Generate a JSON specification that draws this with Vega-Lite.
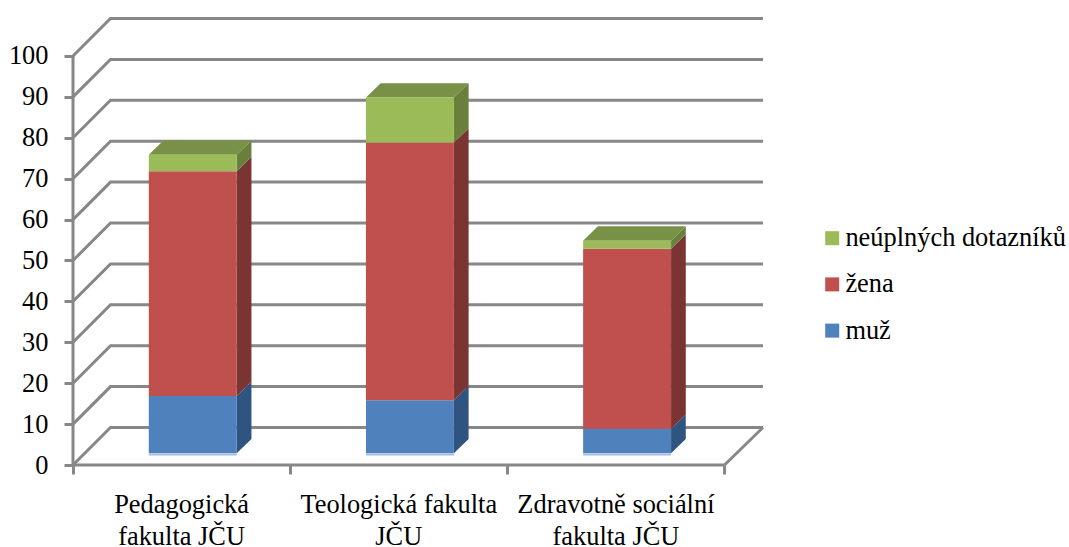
{
"$schema":"https://vega.github.io/schema/vega-lite/v6.json",
"width":690,"height":447,
"autosize":"none",
"padding":{"left":73,"top":18,"right":306,"bottom":82},
"background":"white",
"config":{"view":{"stroke":null},"font":"Liberation Serif, Times New Roman, serif"},
"datasets":{
"hodnoty":[
{"fakulta":"Pedagogická fakulta JČU","i":0,"serie":"muž","s":0,"hodnota":14},
{"fakulta":"Pedagogická fakulta JČU","i":0,"serie":"žena","s":1,"hodnota":55},
{"fakulta":"Pedagogická fakulta JČU","i":0,"serie":"neúplných dotazníků","s":2,"hodnota":4},
{"fakulta":"Teologická fakulta JČU","i":1,"serie":"muž","s":0,"hodnota":13},
{"fakulta":"Teologická fakulta JČU","i":1,"serie":"žena","s":1,"hodnota":63},
{"fakulta":"Teologická fakulta JČU","i":1,"serie":"neúplných dotazníků","s":2,"hodnota":11},
{"fakulta":"Zdravotně sociální fakulta JČU","i":2,"serie":"muž","s":0,"hodnota":6},
{"fakulta":"Zdravotně sociální fakulta JČU","i":2,"serie":"žena","s":1,"hodnota":44},
{"fakulta":"Zdravotně sociální fakulta JČU","i":2,"serie":"neúplných dotazníků","s":2,"hodnota":2}
],
"mrizka":[{"v":0},{"v":10},{"v":20},{"v":30},{"v":40},{"v":50},{"v":60},{"v":70},{"v":80},{"v":90},{"v":100}],
"popisky":[
{"i":0,"popisek":"Pedagogická\nfakulta JČU"},
{"i":1,"popisek":"Teologická fakulta\nJČU"},
{"i":2,"popisek":"Zdravotně sociální\nfakulta JČU"}
]
},
"layer":[
{
"data":{"name":"mrizka"},
"transform":[
{"calculate":"[0,1,2]","as":"ps"},{"flatten":["ps"],"as":["p"]},
{"calculate":"datum.p==0?0:datum.p==1?0.1727:3.1773","as":"gx"},
{"calculate":"datum.v+(datum.p>0?9.17:0)","as":"gy"}
],
"mark":{"type":"line","color":"#878787","strokeWidth":3,"clip":false},
"encoding":{
"x":{"field":"gx","type":"quantitative","scale":{"domain":[0,3.1773],"nice":false,"zero":false},
"axis":{"values":[0,1,2,3],"labels":false,"title":null,"grid":false,"domain":false,"ticks":true,"tickSize":9,"tickColor":"#878787","tickWidth":3}},
"y":{"field":"gy","type":"quantitative","scale":{"domain":[0,109.29],"nice":false,"zero":false},
"axis":{"values":[0,10,20,30,40,50,60,70,80,90,100],"title":null,"grid":false,"domain":false,"tickSize":9,"tickColor":"#878787","tickWidth":3,"labelFont":"Liberation Serif, Times New Roman, serif","labelFontSize":26.4,"labelColor":"#000000","labelPadding":16}},
"detail":{"field":"v"}
}
},
{
"data":{"values":[{"x":0,"y":0,"k":"a"},{"x":0,"y":100,"k":"a"},{"x":0,"y":0,"k":"b"},{"x":3,"y":0,"k":"b"},{"x":3,"y":0,"k":"c"},{"x":3.1773,"y":9.17,"k":"c"}]},
"mark":{"type":"line","color":"#878787","strokeWidth":3},
"encoding":{
"x":{"field":"x","type":"quantitative","scale":{"domain":[0,3.1773],"nice":false,"zero":false}},
"y":{"field":"y","type":"quantitative","scale":{"domain":[0,109.29],"nice":false,"zero":false}},
"detail":{"field":"k"},
"order":{"field":"y"}
}
},
{
"data":{"name":"hodnoty"},
"transform":[
{"stack":"hodnota","groupby":["fakulta"],"sort":[{"field":"s","order":"ascending"}],"as":["y0","y1"]},
{"calculate":"[0,1]","as":"ts"},{"flatten":["ts"],"as":["t"]},
{"calculate":"datum.i+0.754+datum.t*0.0677","as":"sx"},
{"calculate":"datum.y1+2.85+datum.t*3.5","as":"sy1"},
{"calculate":"datum.y0+2.85+datum.t*3.5","as":"sy0"}
],
"mark":{"type":"area","orient":"vertical","opacity":1},
"encoding":{
"x":{"field":"sx","type":"quantitative","scale":{"domain":[0,3.1773],"nice":false,"zero":false}},
"y":{"field":"sy1","type":"quantitative","stack":null,"scale":{"domain":[0,109.29],"nice":false,"zero":false}},
"y2":{"field":"sy0"},
"color":{"field":"serie","type":"nominal","legend":null,"scale":{"domain":["neúplných dotazníků","žena","muž"],"range":["#68803C","#7A3432","#305480"]}},
"detail":{"field":"i"}
}
},
{
"data":{"name":"hodnoty"},
"transform":[
{"stack":"hodnota","groupby":["fakulta"],"sort":[{"field":"s","order":"ascending"}],"as":["y0","y1"]},
{"filter":"datum.s==2"},
{"calculate":"[0,1]","as":"ts"},{"flatten":["ts"],"as":["t"]},
{"calculate":"datum.i+0.349+datum.t*0.0677","as":"tx0"},
{"calculate":"datum.i+0.754+datum.t*0.0677","as":"tx1"},
{"calculate":"datum.y1+2.85+datum.t*3.5","as":"ty"}
],
"mark":{"type":"area","orient":"horizontal","color":"#789146","opacity":1},
"encoding":{
"y":{"field":"ty","type":"quantitative","scale":{"domain":[0,109.29],"nice":false,"zero":false}},
"x":{"field":"tx0","type":"quantitative","stack":null,"scale":{"domain":[0,3.1773],"nice":false,"zero":false}},
"x2":{"field":"tx1"},
"detail":{"field":"i"}
}
},
{
"data":{"name":"hodnoty"},
"transform":[
{"stack":"hodnota","groupby":["fakulta"],"sort":[{"field":"s","order":"ascending"}],"as":["y0","y1"]},
{"calculate":"datum.i+0.349","as":"fx0"},
{"calculate":"datum.i+0.754","as":"fx1"},
{"calculate":"datum.y0+2.85","as":"fy0"},
{"calculate":"datum.y1+2.85","as":"fy1"}
],
"mark":{"type":"rect"},
"encoding":{
"x":{"field":"fx0","type":"quantitative","scale":{"domain":[0,3.1773],"nice":false,"zero":false}},
"x2":{"field":"fx1"},
"y":{"field":"fy1","type":"quantitative","scale":{"domain":[0,109.29],"nice":false,"zero":false}},
"y2":{"field":"fy0"},
"color":{"field":"serie","type":"nominal","scale":{"domain":["neúplných dotazníků","žena","muž"],"range":["#9BBB59","#C0504D","#4F81BD"]},
"legend":{"title":null,"orient":"none","legendX":746,"legendY":207,"symbolType":"square","symbolSize":196,"symbolStrokeWidth":0,"labelFont":"Liberation Serif, Times New Roman, serif","labelFontSize":26.4,"labelColor":"#000000","rowPadding":19.2,"labelOffset":0,"padding":0,"labelLimit":300}}
}
},
{
"data":{"name":"hodnoty"},
"transform":[
{"filter":"datum.s==0"},
{"calculate":"datum.i+0.349","as":"fx0"},
{"calculate":"datum.i+0.754","as":"fx1"},
{"calculate":"2.55","as":"fy"}
],
"mark":{"type":"rule","color":"#A3BEE3","strokeWidth":2},
"encoding":{
"x":{"field":"fx0","type":"quantitative","scale":{"domain":[0,3.1773],"nice":false,"zero":false}},
"x2":{"field":"fx1"},
"y":{"field":"fy","type":"quantitative","scale":{"domain":[0,109.29],"nice":false,"zero":false}}
}
},
{
"data":{"name":"popisky"},
"transform":[{"calculate":"datum.i+0.5","as":"lx"},{"calculate":"-11.7","as":"ly"}],
"mark":{"type":"text","font":"Liberation Serif, Times New Roman, serif","fontSize":26.4,"color":"#000000","align":"center","baseline":"alphabetic","lineBreak":"\n","lineHeight":32,"clip":false},
"encoding":{
"x":{"field":"lx","type":"quantitative","scale":{"domain":[0,3.1773],"nice":false,"zero":false}},
"y":{"field":"ly","type":"quantitative","scale":{"domain":[0,109.29],"nice":false,"zero":false}},
"text":{"field":"popisek"}
}
}
],
"resolve":{"scale":{"color":"independent"}}
}
